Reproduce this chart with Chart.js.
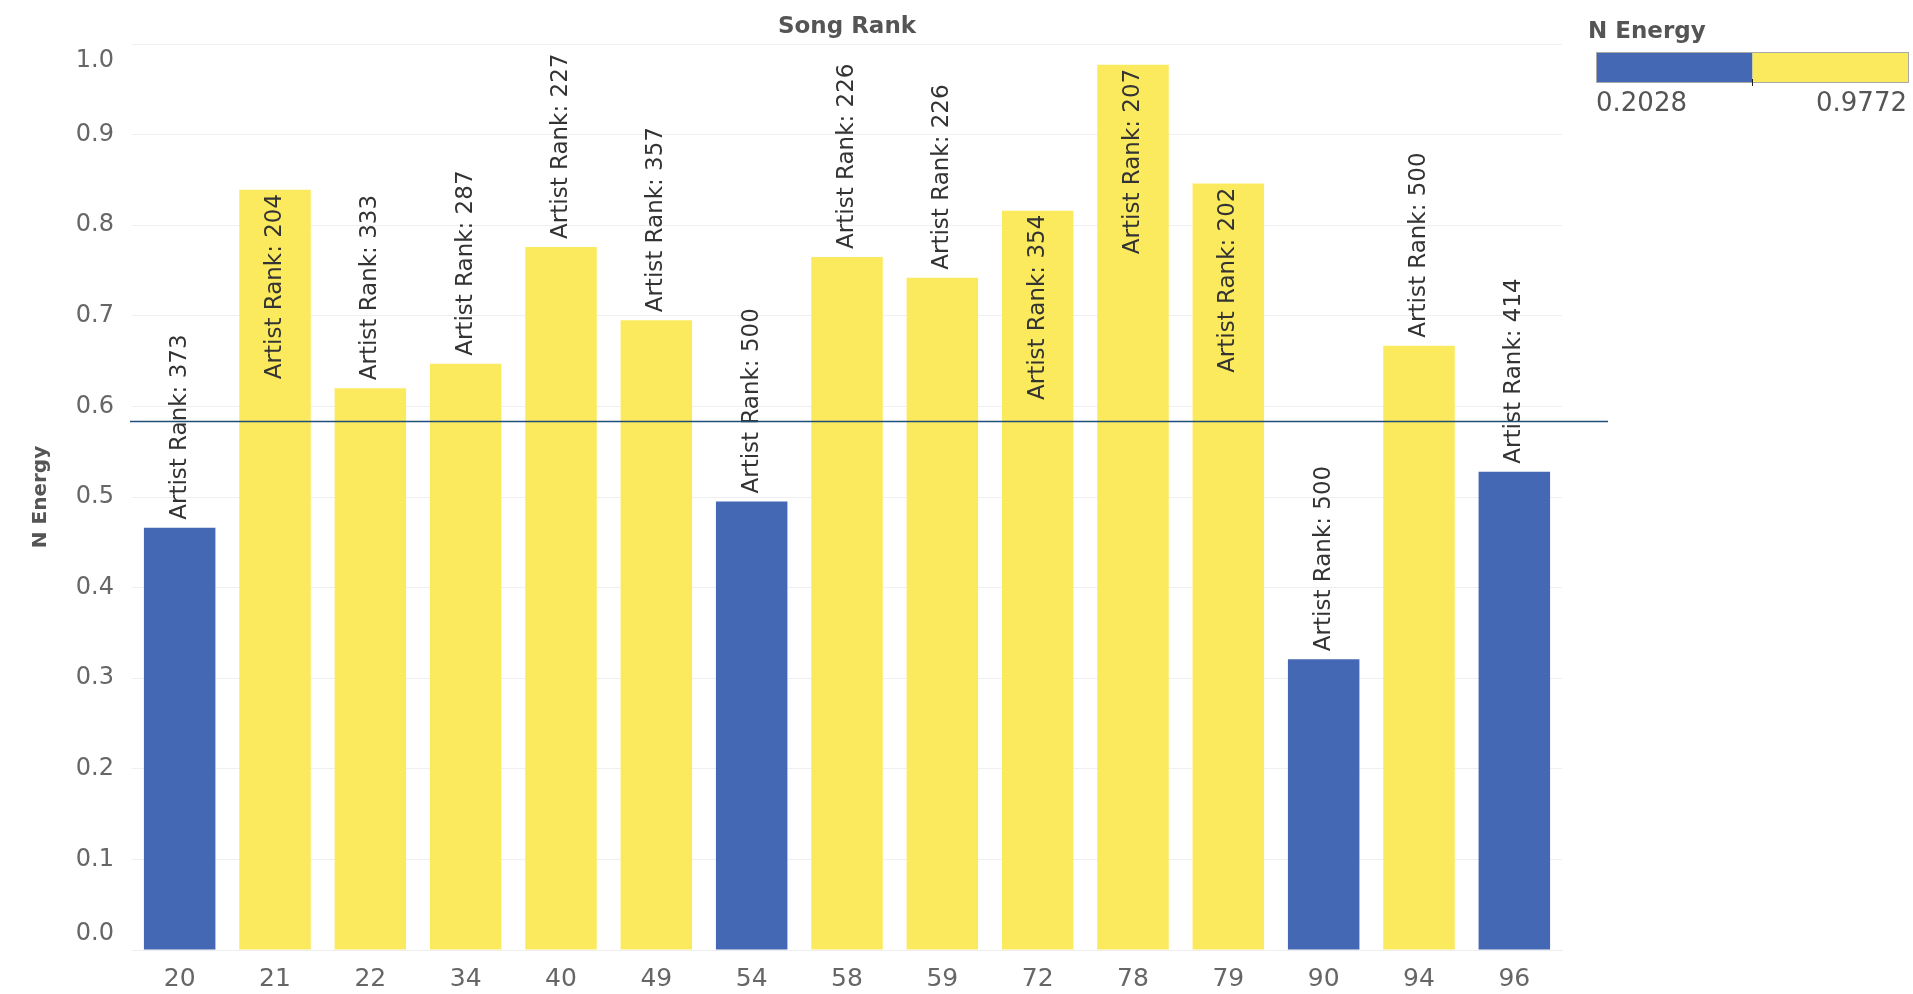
<!DOCTYPE html>
<html>
<head>
<meta charset="utf-8">
<script src="https://cdn.jsdelivr.net/npm/chart.js@4"></script>
<style>
    html, body { margin: 0; padding: 0; background: #fff; }
    #wrap { width: 1913px; height: 994px; }
</style>
</head>
<body>
<div id="wrap"><canvas id="songChart"></canvas></div>
<script>
const songRanks = ['20', '21', '22', '34', '40', '49', '54', '58', '59', '72', '78', '79', '90', '94', '96'];
const energy = [0.466, 0.839, 0.620, 0.647, 0.776, 0.695, 0.495, 0.765, 0.742, 0.816, 0.977, 0.846, 0.321, 0.667, 0.528];
const artistRanks = [373, 204, 333, 287, 227, 357, 500, 226, 226, 354, 207, 202, 500, 500, 414];
const yTicks = [0.0, 0.1, 0.2, 0.3, 0.4, 0.5, 0.6, 0.7, 0.8, 0.9, 1.0];
const legendRange = [0.2028, 0.9772];
const refLine = 0.584;

const BLUE = '#4468b3';
const YELLOW = '#fcea5e';
const midpoint = (legendRange[0] + legendRange[1]) / 2;
const barColors = energy.map(v => v < midpoint ? BLUE : YELLOW);

// rotated "Artist Rank" labels, reference line, title, y tick labels and legend
const extras = {
    id: 'extras',
    afterDatasetsDraw(chart) {
        const ctx = chart.ctx;
        const area = chart.chartArea;
        const y = chart.scales.y;
        const meta = chart.getDatasetMeta(0);

        ctx.save();
        ctx.font = '23px "DejaVu Sans"';
        ctx.fillStyle = '#333';
        meta.data.forEach((bar, i) => {
            const text = 'Artist Rank: ' + artistRanks[i];
            const w = ctx.measureText(text).width;
            ctx.save();
            ctx.translate(bar.x, bar.y);
            ctx.rotate(-Math.PI / 2);
            ctx.textBaseline = 'middle';
            if (bar.y - 8 - w < area.top) {
                // no room above the bar, so the label goes inside from its top
                ctx.textAlign = 'right';
                ctx.fillText(text, -4, 0);
            } else {
                ctx.textAlign = 'left';
                ctx.fillText(text, 8, 0);
            }
            ctx.restore();
        });
        ctx.restore();

        // reference line
        const ly = Math.round(y.getPixelForValue(refLine)) + 0.5;
        ctx.save();
        ctx.strokeStyle = '#1f4e79';
        ctx.lineWidth = 1.6;
        ctx.beginPath();
        ctx.moveTo(area.left - 2, ly);
        ctx.lineTo(area.right + 46, ly);
        ctx.stroke();
        ctx.restore();
    },
    afterDraw(chart) {
        const ctx = chart.ctx;
        const area = chart.chartArea;
        const y = chart.scales.y;
        ctx.save();

        // title
        ctx.fillStyle = '#555';
        ctx.font = 'bold 23px "DejaVu Sans"';
        ctx.textAlign = 'center';
        ctx.textBaseline = 'middle';
        ctx.fillText('Song Rank', (area.left + area.right) / 2, 27);

        // y tick labels, end labels kept inside the plot like the original
        ctx.font = '24px "DejaVu Sans"';
        ctx.fillStyle = '#666';
        ctx.textAlign = 'right';
        yTicks.forEach(t => {
            let py = y.getPixelForValue(t);
            if (py - 12 < area.top) py = area.top + 17;
            if (py + 12 > area.bottom) py = area.bottom - 16;
            ctx.fillText(t.toFixed(1), area.left - 18, py);
        });

        // axis title
        ctx.save();
        ctx.translate(41, (area.top + area.bottom) / 2);
        ctx.rotate(-Math.PI / 2);
        ctx.font = 'bold 20px "DejaVu Sans"';
        ctx.fillStyle = '#555';
        ctx.textAlign = 'center';
        ctx.fillText('N Energy', 0, 0);
        ctx.restore();

        // legend
        const lx = 1596, lw = 313, ly = 52, lh = 31;
        ctx.textAlign = 'left';
        ctx.font = 'bold 23px "DejaVu Sans"';
        ctx.fillStyle = '#555';
        ctx.fillText('N Energy', 1588, 32);
        ctx.fillStyle = BLUE;
        ctx.fillRect(lx, ly, lw / 2, lh);
        ctx.fillStyle = YELLOW;
        ctx.fillRect(lx + lw / 2, ly, lw / 2, lh);
        ctx.strokeStyle = '#aaa';
        ctx.lineWidth = 1;
        ctx.strokeRect(lx + 0.5, ly + 0.5, lw - 1, lh - 1);
        ctx.strokeStyle = '#222';
        ctx.beginPath();
        ctx.moveTo(lx + lw / 2, ly + lh - 4);
        ctx.lineTo(lx + lw / 2, ly + lh + 3);
        ctx.stroke();
        ctx.font = '26px "DejaVu Sans"';
        ctx.fillStyle = '#555';
        ctx.fillText(legendRange[0].toFixed(4), lx, 104);
        ctx.textAlign = 'right';
        ctx.fillText(legendRange[1].toFixed(4), lx + lw - 2, 104);
        ctx.restore();
    }
};

new Chart(document.getElementById('songChart'), {
    type: 'bar',
    data: {
        labels: songRanks,
        datasets: [{
            label: 'N Energy',
            data: energy,
            backgroundColor: barColors,
            categoryPercentage: 0.75,
            barPercentage: 1.0
        }]
    },
    options: {
        responsive: true,
        maintainAspectRatio: false,
        animation: false,
        layout: { padding: { left: 0, top: 44, right: 351, bottom: 0 } },
        plugins: {
            legend: { display: false },
            tooltip: { enabled: false }
        },
        scales: {
            x: {
                grid: { display: false },
                border: { display: true, color: '#eee' },
                ticks: {
                    color: '#666',
                    font: { family: 'DejaVu Sans', size: 25 },
                    padding: 6
                },
                afterFit(scale) { scale.height = 44; }
            },
            y: {
                min: 0,
                max: 1,
                ticks: { display: false, stepSize: 0.1 },
                grid: { color: '#efefef', drawTicks: false },
                border: { display: false },
                afterFit(scale) { scale.width = 132; }
            }
        }
    },
    plugins: [extras]
});
</script>
</body>
</html>
